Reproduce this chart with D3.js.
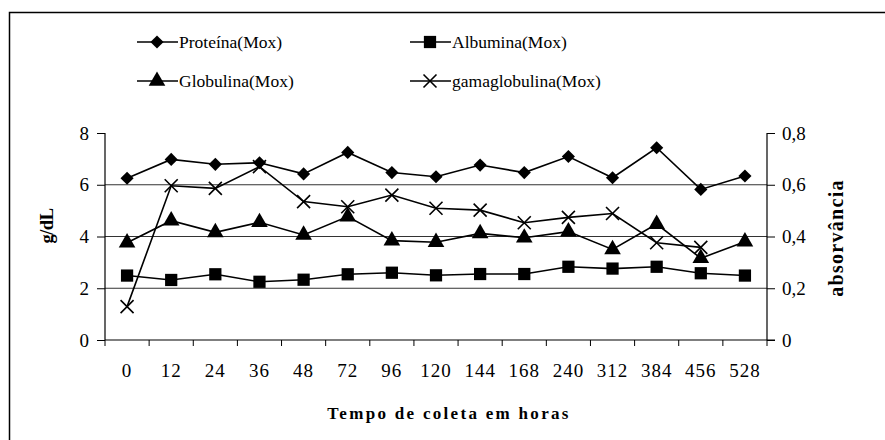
<!DOCTYPE html>
<html><head><meta charset="utf-8">
<script src="https://cdn.jsdelivr.net/npm/d3@7"></script>
<style>body{margin:0;background:#fff}svg{display:block}svg text{font-family:"Liberation Serif","Times New Roman","DejaVu Serif",serif;fill:#000}</style>
</head><body><svg id="c" width="885" height="440"></svg>
<script>
const categories = ["0","12","24","36","48","72","96","120","144","168","240","312","384","456","528"];
const proteina = [6.25,6.98,6.79,6.85,6.42,7.25,6.47,6.31,6.76,6.47,7.09,6.27,7.43,5.82,6.34];
const albumina = [2.49,2.32,2.54,2.25,2.33,2.54,2.60,2.50,2.55,2.55,2.83,2.76,2.83,2.58,2.49];
const globulina = [3.76,4.61,4.16,4.55,4.06,4.77,3.84,3.78,4.12,3.95,4.19,3.50,4.48,3.16,3.80];
const gamaglobulina = [0.129,0.596,0.586,0.670,0.535,0.515,0.560,0.509,0.502,0.453,0.474,0.489,0.376,0.358,null];
const leftTicks = [0,2,4,6,8];
const rightTicks = [0,0.2,0.4,0.6,0.8];
const seriesNames = ["Proteína(Mox)","Albumina(Mox)","Globulina(Mox)","gamaglobulina(Mox)"];

const FONT = '"Liberation Serif","Times New Roman","DejaVu Serif",serif';
const svg = d3.select("#c");
const L=105,R=767,T=133,B=340;
const x = d3.scaleBand().domain(categories).range([L,R]);
const yL = d3.scaleLinear().domain([0,8]).range([B,T]);
const yR = d3.scaleLinear().domain([0,0.8]).range([B,T]);

svg.append("rect").attr("x",9.5).attr("y",12.5).attr("width",900).attr("height",450)
  .attr("fill","none").attr("stroke","#000").attr("stroke-width",1.5);

svg.append("g").selectAll("line").data(leftTicks.filter(d=>d>0&&d<8)).join("line")
  .attr("x1",L).attr("x2",R).attr("y1",d=>yL(d)).attr("y2",d=>yL(d))
  .attr("stroke","#333").attr("stroke-width",1);

const fmtR = d=> d===0?"0":d3.format(".1f")(d).replace(".",",");
const gl = svg.append("g").attr("transform",`translate(${L},0)`)
  .call(d3.axisLeft(yL).tickValues(leftTicks).tickSize(8).tickPadding(8).tickFormat(d3.format("d")));
const gr = svg.append("g").attr("transform",`translate(${R},0)`)
  .call(d3.axisRight(yR).tickValues(rightTicks).tickSize(8).tickPadding(7).tickFormat(fmtR));
const gb = svg.append("g").attr("transform",`translate(0,${B})`)
  .call(d3.axisBottom(x).tickSize(0).tickPadding(37));
[gl,gr,gb].forEach(g=>{g.attr("font-family",null).attr("font-size",null);
  g.select(".domain").attr("stroke","#000").attr("stroke-width",1.2);
  g.selectAll(".tick line").attr("stroke","#000");
  g.selectAll("text").style("font-family",FONT).style("font-size","19px").attr("fill","#000");});
gl.select(".domain").attr("d",`M0,${T}V${B}`);
gr.select(".domain").attr("d",`M0,${T}V${B}`);
gb.select(".domain").attr("d",`M${L},0H${R+8}`);
gb.selectAll("text").attr("dy","0").style("letter-spacing","1px");
svg.append("g").selectAll("line").data(categories.slice(1)).join("line")
  .attr("x1",d=>x(d)).attr("x2",d=>x(d)).attr("y1",B).attr("y2",B+6).attr("stroke","#000");
svg.append("line").attr("x1",L).attr("x2",L).attr("y1",B).attr("y2",B+6).attr("stroke","#000");
svg.append("line").attr("x1",R).attr("x2",R).attr("y1",B).attr("y2",B+6).attr("stroke","#000");

svg.append("text").attr("x",449).attr("y",419).attr("text-anchor","middle").style("font-family",FONT)
  .style("font-weight","bold").style("font-size","17px").style("letter-spacing","2.3px").text("Tempo de coleta em horas");
svg.append("text").attr("transform","translate(53,226) rotate(-90)").attr("text-anchor","middle").style("font-family",FONT)
  .style("font-weight","bold").style("font-size","18.5px").style("letter-spacing","-0.5px").text("g/dL");
svg.append("text").attr("transform","translate(843,238) rotate(-90)").attr("text-anchor","middle").style("font-family",FONT)
  .style("font-weight","bold").style("font-size","20px").style("letter-spacing","1.3px").text("absorvância");

const sym = {
  diamond: d3.symbol().type(d3.symbolDiamond2).size(110),
  square: d3.symbol().type(d3.symbolSquare).size(150),
  triangle: d3.symbol().type(d3.symbolTriangle).size(120)
};
function drawMarker(g,type,cx,cy){
  if(type==="x"){
    const s=6.5;
    g.append("path").attr("d",`M${cx-s},${cy-s}L${cx+s},${cy+s}M${cx-s},${cy+s}L${cx+s},${cy-s}`)
      .attr("stroke","#000").attr("stroke-width",1.6).attr("fill","none");
  } else {
    g.append("path").attr("d",sym[type]()).attr("fill","#000")
      .attr("transform",`translate(${cx},${cy})`);
  }
}
const cx = d=>x(d)+x.bandwidth()/2;
const series = [
  {vals:proteina,y:yL,type:"diamond"},
  {vals:albumina,y:yL,type:"square"},
  {vals:globulina,y:yL,type:"triangle"},
  {vals:gamaglobulina,y:yR,type:"x"}
];
const line = (ys)=>d3.line().defined(d=>d.v!=null).x(d=>cx(d.c)).y(d=>ys(d.v));
series.forEach(s=>{
  const data = categories.map((c,i)=>({c,v:s.vals[i]}));
  const g = svg.append("g");
  g.append("path").datum(data).attr("d",line(s.y)).attr("fill","none").attr("stroke","#000").attr("stroke-width",1.6);
  data.filter(d=>d.v!=null).forEach(d=>drawMarker(g,s.type,cx(d.c),s.y(d.v)));
});

const legendPos = [[137,42],[410,42],[137,81],[410,81]];
series.forEach((s,i)=>{
  const [lx,ly]=legendPos[i];
  const g=svg.append("g");
  g.append("line").attr("x1",lx).attr("x2",lx+41).attr("y1",ly).attr("y2",ly).attr("stroke","#000").attr("stroke-width",1.6);
  drawMarker(g,s.type,lx+20,ly);
  g.append("text").attr("x",lx+42).attr("y",ly+6).style("font-family",FONT).style("font-size","17.5px").text(seriesNames[i]);
});
</script></body></html>
